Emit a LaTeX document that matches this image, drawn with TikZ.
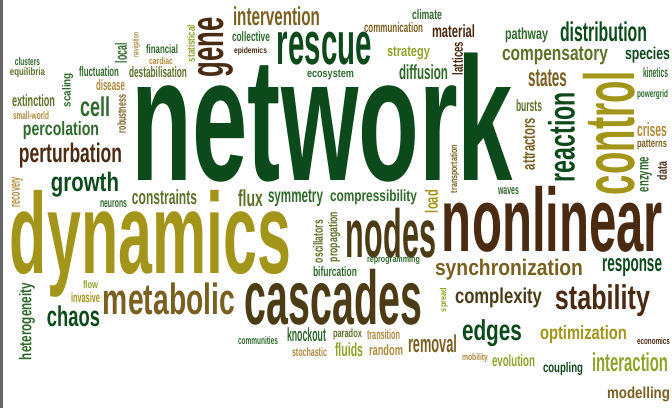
\documentclass[tikz,border=0pt]{standalone}
\usepackage{graphicx}
\usepackage{fontspec}
\setmainfont{Liberation Sans}
\usetikzlibrary{positioning}

\definecolor{cNet}{HTML}{0D4A1B}
\definecolor{cGrn}{HTML}{2F6A2C}
\definecolor{cOgr}{HTML}{5E7028}
\definecolor{cOlv}{HTML}{A3941A}
\definecolor{cLol}{HTML}{8FA32A}
\definecolor{cBrn}{HTML}{4A2B12}
\definecolor{cDol}{HTML}{4B3C16}
\definecolor{cTan}{HTML}{B08A3C}
\definecolor{cOch}{HTML}{7A6020}

% a word squeezed into the box its ink takes in the cloud
\newcommand{\fitword}[3]{\resizebox*{#1pt}{#2pt}{#3}}

\begin{document}
\begin{tikzpicture}[x=1pt, y=-1pt]

        \tikzset{word/.style={inner sep=0pt, outer sep=0pt, font=\bfseries},
                 vword/.style={word, rotate=90}}

        \useasboundingbox (0,0) rectangle (672,408);
        \fill[black!60] (0,0) rectangle (3,408);

        % dark green
        \begin{scope}[nodes={text=cNet}]
            \node[word] (network) at (322.5,117.5) {\fitword{381}{129}{network}};
            \node[word] (rescue) at (324.5,48.5) {\fitword{95}{33}{rescue}};
            \node[word] (species) at (647.5,55) {\fitword{45}{16}{species}};
            \node[word] (growth) at (85,184.5) {\fitword{68}{25}{growth}};
            \node[word] (chaos) at (73.5,316.5) {\fitword{53}{21}{chaos}};
            \node[word] (edges) at (492,333.5) {\fitword{60}{27}{edges}};
            \node[word] (response) at (632,267) {\fitword{60}{18}{response}};
            \node[vword] (reaction) at (561.5,137) {\fitword{90}{27}{reaction}};
            \node[word] (distribution) at (603.5,32) {\fitword{87}{20}{distribution}};
            \node[word] (coupling) at (563,368.5) {\fitword{40}{13}{coupling}};
        \end{scope}

        % green
        \begin{scope}[nodes={text=cGrn}]
            \node[word] (clusters) at (27.5,62) {\fitword{25}{8}{clusters}};
            \node[word] (percolation) at (61,131) {\fitword{76}{18}{percolation}};
            \node[word] (cell) at (95,107) {\fitword{30}{20}{cell}};
            \node[word] (fluctuation) at (99,72) {\fitword{40}{10}{fluctuation}};
            \node[word] (financial) at (162,49.5) {\fitword{32}{9}{financial}};
            \node[word] (collective) at (251,37) {\fitword{38}{10}{collective}};
            \node[word] (ecosystem) at (330.5,75) {\fitword{47}{10}{ecosystem}};
            \node[word] (climate) at (427,15) {\fitword{30}{10}{climate}};
            \node[word] (diffusion) at (423.5,72.5) {\fitword{49}{15}{diffusion}};
            \node[word] (pathway) at (526.5,35.5) {\fitword{43}{15}{pathway}};
            \node[word] (kinetics) at (655.5,73) {\fitword{25}{10}{kinetics}};
            \node[word] (powergrid) at (652.5,95) {\fitword{31}{10}{powergrid}};
            \node[word] (waves) at (508.5,191.5) {\fitword{21}{7}{waves}};
            \node[word] (bifurcation) at (335,272) {\fitword{44}{10}{bifurcation}};
            \node[word] (reprogramming) at (393.5,260) {\fitword{53}{9}{reprogramming}};
            \node[word] (communities) at (258,341) {\fitword{40}{8}{communities}};
            \node[word] (knockout) at (306.5,335) {\fitword{39}{14}{knockout}};
            \node[word] (symmetry) at (295.5,198.5) {\fitword{55}{17}{symmetry}};
            \node[word] (compressibility) at (373.5,197.5) {\fitword{87}{15}{compressibility}};
            \node[word] (neurons) at (113.5,204.5) {\fitword{27}{7}{neurons}};
            \node[vword] (scaling) at (67.5,90) {\fitword{34}{11}{scaling}};
            \node[vword] (local) at (121,53) {\fitword{20}{12}{local}};
            \node[vword] (enzyme) at (646,174.5) {\fitword{35}{12}{enzyme}};
            \node[vword] (heterogeneity) at (27,321.5) {\fitword{77}{16}{heterogeneity}};
        \end{scope}

        % olive green
        \begin{scope}[nodes={text=cOgr}]
            \node[word] (equilibria) at (27.5,73) {\fitword{35}{10}{equilibria}};
            \node[word] (extinction) at (33.5,101) {\fitword{43}{12}{extinction}};
            \node[word] (destabilisation) at (158,72.5) {\fitword{58}{11}{destabilisation}};
            \node[word] (compensatory) at (555,56) {\fitword{106}{18}{compensatory}};
            \node[word] (bursts) at (529,106) {\fitword{26}{12}{bursts}};
            \node[word] (paradox) at (347.5,334.5) {\fitword{29}{11}{paradox}};
            \node[word] (flux) at (250.5,198.5) {\fitword{25}{17}{flux}};
            \node[word] (constraints) at (164.5,197.5) {\fitword{65}{15}{constraints}};
            \node[vword] (oscillators) at (318,241.5) {\fitword{43}{10}{oscillators}};
            \node[vword] (propagation) at (334,237) {\fitword{50}{12}{propagation}};
        \end{scope}

        % mustard
        \begin{scope}[nodes={text=cOlv}]
            \node[word] (dynamics) at (150.5,243.5) {\fitword{281}{107}{dynamics}};
            \node[vword] (control) at (609,133) {\fitword{124}{52}{control}};
            \node[word] (optimization) at (583.5,334) {\fitword{87}{18}{optimization}};
            \node[vword] (load) at (431.5,201.5) {\fitword{23}{13}{load}};
            \node[word] (invasive) at (85.5,298) {\fitword{29}{10}{invasive}};
        \end{scope}

        % light olive
        \begin{scope}[nodes={text=cLol}]
            \node[word] (strategy) at (408.5,53.5) {\fitword{43}{13}{strategy}};
            \node[word] (evolution) at (513.5,361) {\fitword{43}{12}{evolution}};
            \node[word] (interaction) at (630,362.5) {\fitword{76}{19}{interaction}};
            \node[word] (fluids) at (349,350) {\fitword{28}{14}{fluids}};
            \node[word] (flow) at (90.5,285) {\fitword{15}{8}{flow}};
            \node[vword] (statistical) at (191,43.5) {\fitword{37}{8}{statistical}};
            \node[vword] (spread) at (444,300) {\fitword{24}{8}{spread}};
        \end{scope}

        % brown
        \begin{scope}[nodes={text=cBrn}]
            \node[word] (nonlinear) at (552.5,219) {\fitword{221}{66}{nonlinear}};
            \node[word] (stability) at (602.5,301) {\fitword{95}{32}{stability}};
            \node[word] (perturbation) at (70.5,155.5) {\fitword{103}{25}{perturbation}};
            \node[word] (material) at (453.5,31.5) {\fitword{43}{13}{material}};
            \node[word] (epidemics) at (250.5,51) {\fitword{33}{8}{epidemics}};
            \node[vword] (gene) at (215.5,47) {\fitword{60}{35}{gene}};
            \node[vword] (lattices) at (457.5,58.5) {\fitword{33}{11}{lattices}};
            \node[vword] (data) at (662,171) {\fitword{18}{10}{data}};
            \node[word] (economics) at (653.5,341.5) {\fitword{33}{7}{economics}};
        \end{scope}

        % dark olive brown
        \begin{scope}[nodes={text=cDol}]
            \node[word] (cascades) at (333.5,297) {\fitword{177}{56}{cascades}};
            \node[word] (nodes) at (391,233) {\fitword{90}{50}{nodes}};
            \node[word] (complexity) at (498.5,298) {\fitword{87}{20}{complexity}};
        \end{scope}

        % ochre
        \begin{scope}[nodes={text=cOch}]
            \node[word] (intervention) at (276.5,16.5) {\fitword{87}{19}{intervention}};
            \node[word] (communication) at (393.5,28) {\fitword{59}{10}{communication}};
            \node[word] (metabolic) at (169,299) {\fitword{132}{32}{metabolic}};
            \node[word] (synchronization) at (509,269.5) {\fitword{148}{21}{synchronization}};
            \node[word] (removal) at (432.5,344) {\fitword{49}{18}{removal}};
            \node[word] (modelling) at (638.5,394.5) {\fitword{63}{15}{modelling}};
            \node[word] (states) at (547.5,78.5) {\fitword{39}{17}{states}};
            \node[word] (patterns) at (652,145) {\fitword{30}{10}{patterns}};
            \node[vword] (attractors) at (529,144) {\fitword{52}{12}{attractors}};
            \node[vword] (transportation) at (454.5,169) {\fitword{48}{9}{transportation}};
            \node[vword] (robustness) at (121.5,114) {\fitword{38}{9}{robustness}};
        \end{scope}

        % tan
        \begin{scope}[nodes={text=cTan}]
            \node[word] (small-world) at (31,116) {\fitword{36}{8}{small-world}};
            \node[word] (disease) at (110.5,85.5) {\fitword{29}{11}{disease}};
            \node[word] (cardiac) at (161,61.5) {\fitword{24}{7}{cardiac}};
            \node[word] (crises) at (652,130) {\fitword{30}{14}{crises}};
            \node[word] (mobility) at (475,357.5) {\fitword{26}{9}{mobility}};
            \node[word] (transition) at (383.5,335) {\fitword{33}{10}{transition}};
            \node[word] (stochastic) at (309.5,352.5) {\fitword{35}{9}{stochastic}};
            \node[word] (random) at (386,350.5) {\fitword{34}{11}{random}};
            \node[vword] (navigation) at (136.5,45) {\fitword{24}{8}{navigation}};
            \node[vword] (recovery) at (17.5,192) {\fitword{30}{11}{recovery}};
        \end{scope}

\end{tikzpicture}
\end{document}
